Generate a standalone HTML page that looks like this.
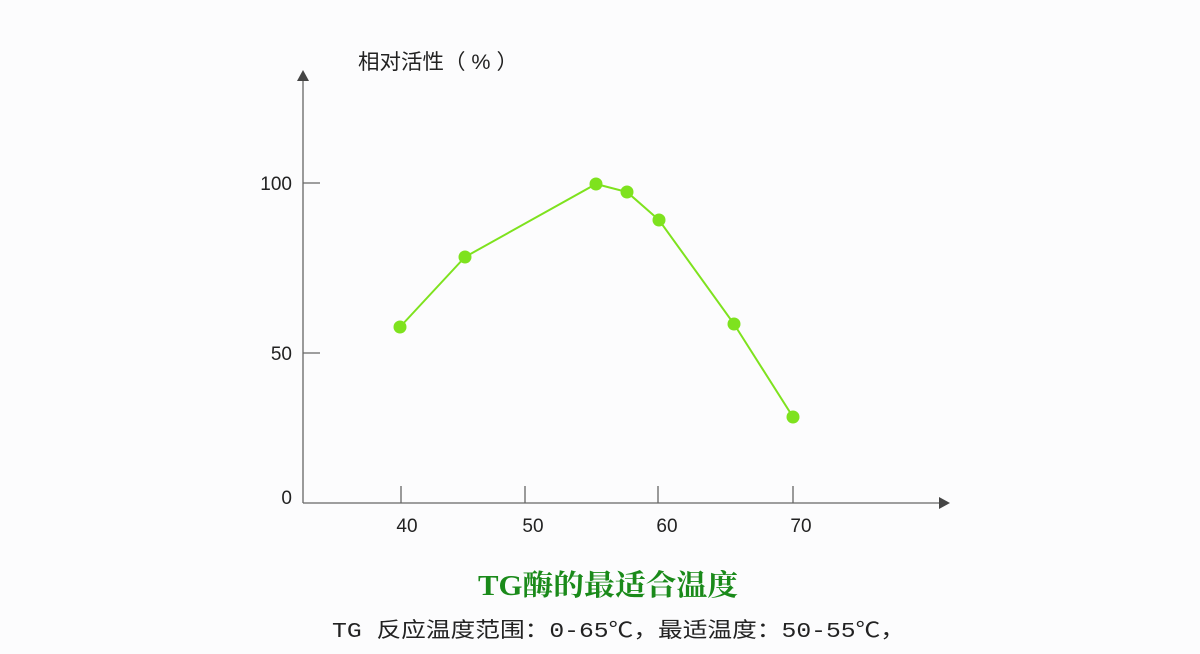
<!DOCTYPE html>
<html><head><meta charset="utf-8"><style>
html,body{margin:0;padding:0;background:#fcfcfd;}
svg{display:block}
</style></head><body>
<svg width="1200" height="654" viewBox="0 0 1200 654" xmlns="http://www.w3.org/2000/svg">
<rect width="1200" height="654" fill="#fcfcfd"/>
<g stroke="#666" stroke-width="1.3" fill="none">
<line x1="303" y1="80" x2="303" y2="503"/>
<line x1="303" y1="503" x2="940" y2="503"/>
<line x1="303" y1="183" x2="320" y2="183"/>
<line x1="303" y1="353" x2="320" y2="353"/>
<line x1="401" y1="486" x2="401" y2="503"/>
<line x1="525" y1="486" x2="525" y2="503"/>
<line x1="658" y1="486" x2="658" y2="503"/>
<line x1="793" y1="486" x2="793" y2="503"/>
</g>
<polygon points="303,70 297,81 309,81" fill="#444"/>
<polygon points="950,503 939,497 939,509" fill="#444"/>
<g font-family="Liberation Sans, sans-serif" font-size="19" fill="#222">
<text x="292" y="190" text-anchor="end">100</text>
<text x="292" y="360" text-anchor="end">50</text>
<text x="292" y="504" text-anchor="end">0</text>
<text x="407" y="532" text-anchor="middle">40</text>
<text x="533" y="532" text-anchor="middle">50</text>
<text x="667" y="532" text-anchor="middle">60</text>
<text x="801" y="532" text-anchor="middle">70</text>
</g>
<text x="358" y="69" textLength="160" lengthAdjust="spacingAndGlyphs" font-family="Liberation Sans, 'Noto Sans CJK SC', sans-serif" font-size="21" fill="#222">相对活性（ % ）</text>
<polyline points="400,327 465,257 596,184 627,192 659,220 734,324 793,417" fill="none" stroke="#7ee21e" stroke-width="2"/>
<g fill="#7ee21e">
<circle cx="400" cy="327" r="6.5"/><circle cx="465" cy="257" r="6.5"/><circle cx="596" cy="184" r="6.5"/><circle cx="627" cy="192" r="6.5"/><circle cx="659" cy="220" r="6.5"/><circle cx="734" cy="324" r="6.5"/><circle cx="793" cy="417" r="6.5"/>
</g>
<text x="478" y="595" textLength="260" lengthAdjust="spacingAndGlyphs" font-family="Liberation Serif, 'Noto Serif CJK SC', serif" font-weight="bold" font-size="29" fill="#1a8a1a">TG酶的最适合温度</text>
<text x="332" y="637" textLength="573" lengthAdjust="spacingAndGlyphs" font-family="Liberation Mono, 'Noto Sans CJK SC', monospace" font-size="21" fill="#222">TG 反应温度范围：0-65℃，最适温度：50-55℃，</text>
</svg>
</body></html>
